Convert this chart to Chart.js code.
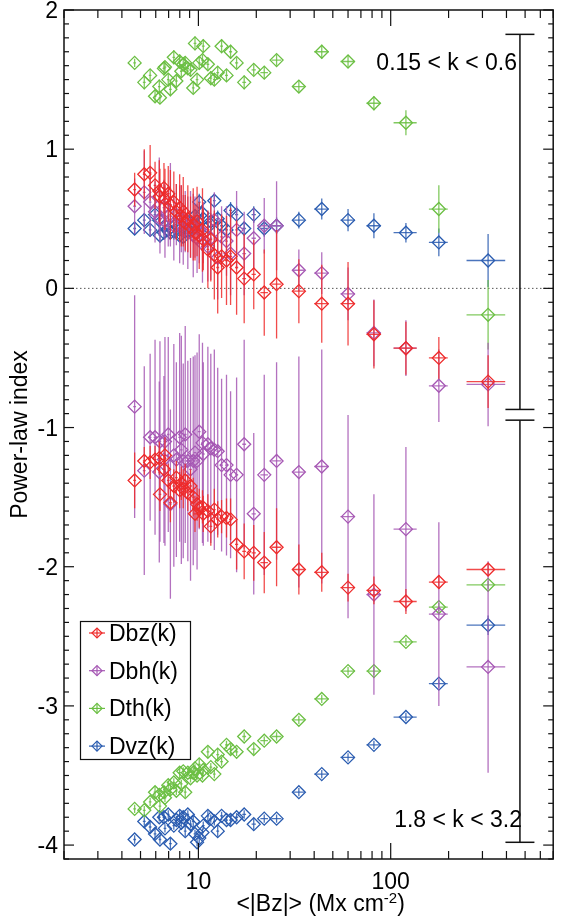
<!DOCTYPE html>
<html>
<head>
<meta charset="utf-8">
<title>Power-law index</title>
<script src="https://cdn.jsdelivr.net/npm/chart.js@4.4.1/dist/chart.umd.min.js"></script>
<style>
	html, body { margin: 0; padding: 0; background: #ffffff; }
	canvas { display: block; }
</style>
</head>
<body>
<canvas id="powerLawChart" width="561" height="917"></canvas>
<script>
// <|Bz|> of each region (Mx cm-2) and its error
const bz = [4.66, 5.23, 5.61, 5.95, 6.26, 6.31, 6.62, 6.70, 6.97, 7.15, 7.45, 7.68, 7.99, 8.15, 8.34, 8.54, 8.81, 9.10, 9.4, 9.6,
	9.84, 10.1, 10.5, 10.6, 11.2, 11.6, 12.1, 12.6, 13.2, 14.0, 14.7, 15.8, 17.3, 19.4, 22.0, 25.5, 33.3, 43.8, 60.0, 81.8,
	120, 178, 321];
const bzErr = [0.08, 0.09, 0.09, 0.1, 0.1, 0.1, 0.11, 0.11, 0.11, 0.12, 0.12, 0.12, 0.13, 0.13, 0.13, 0.14, 0.14, 0.15, 0.15, 0.16,
	0.16, 0.17, 0.17, 0.18, 0.19, 0.2, 0.2, 0.22, 0.23, 0.25, 0.27, 0.3, 0.4, 0.5, 1.0, 1.5, 2.4, 3.8, 5.2, 7,
	16.5, 20, 73];

// 0.15 < k < 0.6
const dbzLow = [0.71, 0.82, 0.83, 0.74, 0.70, 0.66, 0.72, 0.64, 0.68, 0.60, 0.62, 0.55, 0.58, 0.52, 0.55, 0.47, 0.50, 0.44, 0.46, 0.40,
	0.48, 0.38, 0.42, 0.35, 0.28, 0.35, 0.24, 0.15, 0.23, 0.20, 0.23, 0.15, 0.07, 0.10, -0.03, 0.03, -0.02, -0.11, -0.11, -0.33,
	-0.43, -0.50, -0.67];
const dbzLowErr = [0.12, 0.18, 0.2, 0.17, 0.22, 0.2, 0.18, 0.22, 0.2, 0.25, 0.22, 0.2, 0.24, 0.22, 0.25, 0.2, 0.24, 0.22, 0.26, 0.2,
	0.25, 0.24, 0.3, 0.22, 0.28, 0.3, 0.32, 0.33, 0.3, 0.32, 0.35, 0.34, 0.32, 0.25, 0.31, 0.39, 0.23, 0.28, 0.3, 0.245,
	0.19, 0.15, 0.19];
const dbhLow = [0.59, 0.69, 0.62, 0.55, 0.66, 0.50, 0.58, 0.48, 0.52, 0.60, 0.45, 0.53, 0.46, 0.50, 0.42, 0.48, 0.40, 0.46, 0.38, 0.44,
	0.36, 0.42, 0.32, 0.40, 0.30, 0.36, 0.49, 0.22, 0.37, 0.34, 0.25, 0.42, 0.25, 0.36, 0.45, 0.45, 0.13, 0.11, -0.04, -0.32,
	-0.43, -0.70, -0.69];
const dbhLowErr = [0.2, 0.3, 0.25, 0.22, 0.28, 0.25, 0.2, 0.26, 0.22, 0.3, 0.25, 0.22, 0.28, 0.24, 0.25, 0.22, 0.26, 0.24, 0.3, 0.22,
	0.25, 0.24, 0.28, 0.22, 0.25, 0.3, 0.2, 0.3, 0.22, 0.25, 0.3, 0.28, 0.3, 0.22, 0.2, 0.32, 0.15, 0.15, 0.19, 0.24,
	0.2, 0.26, 0.3];
const dthLow = [1.62, 1.48, 1.53, 1.38, 1.45, 1.37, 1.58, 1.59, 1.50, 1.43, 1.66, 1.49, 1.63, 1.56, 1.61, 1.62, 1.58, 1.57, 1.44, 1.76,
	1.50, 1.62, 1.64, 1.74, 1.61, 1.51, 1.50, 1.55, 1.74, 1.53, 1.70, 1.62, 1.48, 1.57, 1.55, 1.64, 1.45, 1.70, 1.63, 1.33,
	1.19, 0.57, -0.19];
const dthLowErr = [0.03, 0.05, 0.04, 0.04, 0.05, 0.04, 0.05, 0.04, 0.04, 0.05, 0.05, 0.04, 0.05, 0.04, 0.04, 0.05, 0.04, 0.05, 0.04, 0.05,
	0.04, 0.05, 0.04, 0.05, 0.04, 0.05, 0.04, 0.04, 0.05, 0.04, 0.05, 0.04, 0.05, 0.04, 0.04, 0.04, 0.04, 0.05, 0.04, 0.05,
	0.09, 0.17, 0.25];
const dvzLow = [0.43, 0.49, 0.42, 0.53, 0.49, 0.38, 0.40, 0.45, 0.42, 0.40, 0.41, 0.46, 0.38, 0.43, 0.37, 0.41, 0.41, 0.47, 0.44, 0.52,
	0.45, 0.62, 0.54, 0.50, 0.44, 0.48, 0.63, 0.50, 0.45, 0.42, 0.56, 0.53, 0.43, 0.53, 0.43, 0.45, 0.49, 0.57, 0.49, 0.45,
	0.40, 0.33, 0.20];
const dvzLowErr = [0.04, 0.05, 0.05, 0.05, 0.06, 0.05, 0.05, 0.06, 0.05, 0.05, 0.06, 0.05, 0.05, 0.06, 0.05, 0.05, 0.06, 0.05, 0.06, 0.05,
	0.05, 0.06, 0.05, 0.06, 0.05, 0.06, 0.05, 0.06, 0.05, 0.06, 0.06, 0.06, 0.05, 0.06, 0.06, 0.06, 0.06, 0.075, 0.08, 0.09,
	0.07, 0.1, 0.19];

// 1.8 < k < 3.2
const dbzHigh = [-1.38, -1.24, -1.25, -1.23, -1.22, -1.48, -1.30, -1.20, -1.38, -1.54, -1.42, -1.36, -1.45, -1.40, -1.44, -1.38, -1.47, -1.42, -1.50, -1.62,
	-1.55, -1.58, -1.57, -1.62, -1.60, -1.71, -1.59, -1.66, -1.64, -1.65, -1.66, -1.84, -1.89, -1.90, -1.97, -1.86, -2.02, -2.04, -2.15, -2.17,
	-2.25, -2.11, -2.02];
const dbzHighErr = [0.2, 0.1, 0.12, 0.1, 0.12, 0.12, 0.1, 0.13, 0.12, 0.14, 0.12, 0.12, 0.13, 0.12, 0.14, 0.12, 0.13, 0.12, 0.14, 0.13,
	0.12, 0.14, 0.12, 0.13, 0.12, 0.14, 0.15, 0.13, 0.12, 0.14, 0.15, 0.18, 0.2, 0.2, 0.22, 0.28, 0.18, 0.14, 0.1, 0.1,
	0.09, 0.05, 0.04];
const dbhHigh = [-0.85, -1.31, -1.07, -1.07, -1.32, -1.10, -1.23, -1.10, -1.05, -1.55, -1.20, -1.23, -1.07, -1.16, -1.24, -1.05, -1.24, -1.30, -1.24, -1.18,
	-1.24, -1.03, -1.11, -1.19, -1.12, -1.15, -1.16, -1.17, -1.27, -1.27, -1.34, -1.34, -1.12, -1.62, -1.34, -1.24, -1.32, -1.28, -1.64, -2.20,
	-1.73, -2.34, -2.72];
const dbhHighErr = [0.8, 0.75, 0.6, 0.7, 0.65, 0.72, 0.6, 0.75, 0.7, 0.68, 0.8, 0.7, 0.75, 0.82, 0.7, 0.78, 0.72, 0.8, 0.75, 0.7,
	0.78, 0.7, 0.72, 0.66, 0.7, 0.68, 0.72, 0.6, 0.62, 0.65, 0.6, 0.7, 0.75, 0.58, 0.72, 0.71, 0.83, 0.84, 0.73, 0.72,
	0.59, 0.66, 0.76];
const dthHigh = [-3.74, -3.75, -3.69, -3.62, -3.64, -3.72, -3.62, -3.66, -3.57, -3.60, -3.55, -3.61, -3.48, -3.56, -3.47, -3.62, -3.48, -3.52, -3.48, -3.45,
	-3.50, -3.42, -3.50, -3.46, -3.33, -3.44, -3.49, -3.35, -3.40, -3.28, -3.31, -3.33, -3.22, -3.31, -3.25, -3.22, -3.10, -2.95, -2.75, -2.75,
	-2.54, -2.29, -2.13];
const dthHighErr = [0.03, 0.03, 0.03, 0.04, 0.03, 0.03, 0.04, 0.03, 0.03, 0.04, 0.03, 0.03, 0.04, 0.03, 0.03, 0.04, 0.03, 0.03, 0.04, 0.03,
	0.03, 0.04, 0.03, 0.03, 0.04, 0.03, 0.03, 0.04, 0.03, 0.03, 0.04, 0.03, 0.03, 0.04, 0.03, 0.03, 0.03, 0.03, 0.03, 0.03,
	0.03, 0.03, 0.03];
const dvzHigh = [-3.96, -3.83, -3.87, -3.92, -3.80, -3.96, -3.80, -3.88, -3.78, -3.99, -3.86, -3.82, -3.79, -3.84, -3.80, -3.90, -3.78, -3.85, -3.83, -3.92,
	-3.98, -3.95, -3.91, -3.86, -3.79, -3.81, -3.83, -3.90, -3.79, -3.82, -3.82, -3.80, -3.78, -3.85, -3.81, -3.81, -3.62, -3.49, -3.37, -3.28,
	-3.08, -2.84, -2.42];
const dvzHighErr = [0.03, 0.03, 0.03, 0.04, 0.03, 0.03, 0.04, 0.03, 0.03, 0.04, 0.03, 0.03, 0.04, 0.03, 0.03, 0.04, 0.03, 0.03, 0.04, 0.03,
	0.03, 0.04, 0.03, 0.03, 0.04, 0.03, 0.03, 0.04, 0.03, 0.03, 0.04, 0.03, 0.03, 0.04, 0.03, 0.03, 0.03, 0.03, 0.03, 0.03,
	0.03, 0.03, 0.07];

const seriesNames = ['Dbz(k)', 'Dbh(k)', 'Dth(k)', 'Dvz(k)'];
const seriesColors = ['#ee2b2b', '#a658b4', '#6bbf43', '#2a5cb0'];
const yTickLabels = ['-4', '-3', '-2', '-1', '0', '1', '2'];
const xTickLabels = ['10', '100'];
const kRanges = ['0.15 < k < 0.6', '1.8 < k < 3.2'];
const kBracketLow = [1.825, -0.87];
const kBracketHigh = [-0.947, -3.98];
const bracketBz = 470;

const FONT = '"Liberation Sans", Arial, Helvetica, sans-serif';

function makePoints(values, errors) {
	return values.map((v, i) => ({ x: bz[i], y: v, xErr: bzErr[i], yErr: errors[i] }));
}

function makeDataset(label, color, values, errors) {
	return {
		label: label,
		data: makePoints(values, errors),
		borderColor: color,
		backgroundColor: 'rgba(0,0,0,0)',
		pointStyle: 'rectRot',
		pointRadius: 6.5,
		pointBorderWidth: 1.3,
		showLine: false
	};
}

function line(ctx, x1, y1, x2, y2) {
	ctx.beginPath();
	ctx.moveTo(x1, y1);
	ctx.lineTo(x2, y2);
	ctx.stroke();
}

// dotted zero line, then error bars under each dataset's diamonds
const errorBars = {
	id: 'errorBars',
	beforeDatasetsDraw(chart) {
		const ctx = chart.ctx;
		const a = chart.chartArea;
		const y0 = chart.scales.y.getPixelForValue(0);
		ctx.save();
		ctx.strokeStyle = '#555';
		ctx.lineWidth = 1;
		ctx.setLineDash([1.5, 2.5]);
		line(ctx, a.left, y0, a.right, y0);
		ctx.restore();
	},
	beforeDatasetDraw(chart, args) {
		const ctx = chart.ctx;
		const xs = chart.scales.x, ys = chart.scales.y;
		const a = chart.chartArea;
		const ds = chart.data.datasets[args.index];
		ctx.save();
		ctx.beginPath();
		ctx.rect(a.left, a.top, a.right - a.left, a.bottom - a.top);
		ctx.clip();
		ctx.strokeStyle = ds.borderColor;
		ctx.globalAlpha = 0.85;
		ctx.lineWidth = 1.3;
		ds.data.forEach(p => {
			const px = xs.getPixelForValue(p.x);
			const py = ys.getPixelForValue(p.y);
			line(ctx, px, ys.getPixelForValue(p.y + p.yErr), px, ys.getPixelForValue(p.y - p.yErr));
			line(ctx, xs.getPixelForValue(p.x - p.xErr), py, xs.getPixelForValue(p.x + p.xErr), py);
		});
		ctx.restore();
	}
};

// IDL style box: inward ticks on all sides, labels, legend, k brackets
const frame = {
	id: 'frame',
	afterDraw(chart) {
		const ctx = chart.ctx;
		const a = chart.chartArea;
		const xs = chart.scales.x, ys = chart.scales.y;
		ctx.save();
		ctx.strokeStyle = '#111';
		ctx.lineWidth = 1.5;
		ctx.strokeRect(a.left, a.top, a.right - a.left, a.bottom - a.top);

		ctx.lineWidth = 1.2;
		for (let i = -41; i <= 20; i++) {
			const py = ys.getPixelForValue(i / 10);
			const len = i % 10 === 0 ? 10 : 5;
			line(ctx, a.left, py, a.left + len, py);
			line(ctx, a.right, py, a.right - len, py);
		}
		for (let d = 1; d <= 100; d *= 10) {
			for (let m = 1; m <= 9; m++) {
				const v = m * d;
				if (v < xs.min || v > xs.max) continue;
				const px = xs.getPixelForValue(v);
				const len = m === 1 ? 16 : 8;
				line(ctx, px, a.bottom, px, a.bottom - len);
				line(ctx, px, a.top, px, a.top + len);
			}
		}

		ctx.fillStyle = '#000';
		ctx.font = '23px ' + FONT;
		ctx.textAlign = 'right';
		ctx.textBaseline = 'alphabetic';
		yTickLabels.forEach(t => {
			ctx.fillText(t, a.left - 6, ys.getPixelForValue(Number(t)) + 8);
		});
		ctx.textAlign = 'center';
		xTickLabels.forEach(t => {
			ctx.fillText(t, xs.getPixelForValue(Number(t)), a.bottom + 30);
		});

		// axis titles
		ctx.save();
		ctx.translate(21, (a.top + a.bottom) / 2);
		ctx.rotate(-Math.PI / 2);
		ctx.textBaseline = 'middle';
		ctx.fillText('Power-law index', 0, 0);
		ctx.restore();

		ctx.textAlign = 'left';
		const t1 = '<|Bz|> (Mx cm';
		const w1 = ctx.measureText(t1).width;
		ctx.font = '15px ' + FONT;
		const w2 = ctx.measureText('-2').width;
		ctx.font = '23px ' + FONT;
		const w3 = ctx.measureText(')').width;
		const tx = (a.left + a.right) / 2 + 12 - (w1 + w2 + w3) / 2;
		const ty = a.bottom + 52;
		ctx.fillText(t1, tx, ty);
		ctx.font = '15px ' + FONT;
		ctx.fillText('-2', tx + w1, ty - 8);
		ctx.font = '23px ' + FONT;
		ctx.fillText(')', tx + w1 + w2, ty);

		// k range labels and brackets
		ctx.textAlign = 'right';
		ctx.fillText(kRanges[0], 517, ys.getPixelForValue(1.625) + 8);
		ctx.fillText(kRanges[1], 522, ys.getPixelForValue(-3.815) + 8);
		const bx = xs.getPixelForValue(bracketBz);
		ctx.strokeStyle = '#111';
		ctx.lineWidth = 1.5;
		[kBracketLow, kBracketHigh].forEach(r => {
			const top = ys.getPixelForValue(r[0]);
			const bot = ys.getPixelForValue(r[1]);
			line(ctx, bx, top, bx, bot);
			line(ctx, bx - 14.5, top, bx + 14.5, top);
			line(ctx, bx - 14.5, bot, bx + 14.5, bot);
		});

		// legend
		ctx.fillStyle = '#fff';
		ctx.fillRect(80, 621, 111, 138);
		ctx.lineWidth = 1.2;
		ctx.strokeStyle = '#111';
		ctx.strokeRect(80.5, 621.5, 110, 138);
		ctx.textAlign = 'left';
		seriesNames.forEach((name, i) => {
			const ly = 633 + i * 37.7;
			const lx = 97;
			ctx.strokeStyle = seriesColors[i];
			ctx.lineWidth = 1.2;
			line(ctx, lx - 8, ly, lx + 8, ly);
			line(ctx, lx, ly - 5, lx, ly + 5);
			ctx.beginPath();
			ctx.moveTo(lx - 5, ly);
			ctx.lineTo(lx, ly - 5);
			ctx.lineTo(lx + 5, ly);
			ctx.lineTo(lx, ly + 5);
			ctx.closePath();
			ctx.stroke();
			ctx.fillStyle = '#000';
			ctx.font = '23px ' + FONT;
			ctx.fillText(name, 109, ly + 8);
		});
		ctx.restore();
	}
};

window.onload = function () {
	const ctx = document.getElementById('powerLawChart').getContext('2d');
	new Chart(ctx, {
		type: 'scatter',
		data: {
			datasets: [
				makeDataset('Dbz(k) low', seriesColors[0], dbzLow, dbzLowErr),
				makeDataset('Dbz(k) high', seriesColors[0], dbzHigh, dbzHighErr),
				makeDataset('Dbh(k) low', seriesColors[1], dbhLow, dbhLowErr),
				makeDataset('Dbh(k) high', seriesColors[1], dbhHigh, dbhHighErr),
				makeDataset('Dth(k) low', seriesColors[2], dthLow, dthLowErr),
				makeDataset('Dth(k) high', seriesColors[2], dthHigh, dthHighErr),
				makeDataset('Dvz(k) low', seriesColors[3], dvzLow, dvzLowErr),
				makeDataset('Dvz(k) high', seriesColors[3], dvzHigh, dvzHighErr)
			]
		},
		options: {
			responsive: false,
			animation: false,
			devicePixelRatio: 1,
			layout: { padding: { left: 64, right: 2, top: 10, bottom: 58 } },
			scales: {
				x: { type: 'logarithmic', min: 2, max: 700, display: false },
				y: { type: 'linear', min: -4.1, max: 2, display: false }
			},
			plugins: {
				legend: { display: false },
				tooltip: { enabled: false }
			}
		},
		plugins: [errorBars, frame]
	});
}
</script>
</body>
</html>
